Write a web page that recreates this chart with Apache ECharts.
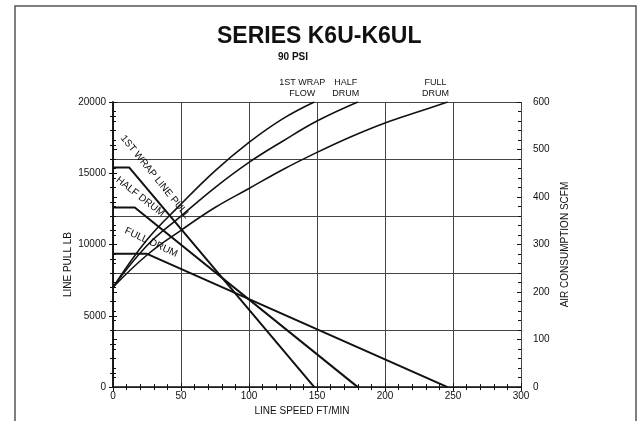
<!DOCTYPE html>
<html lang="en" style="height: 100%">
<head>
  <meta charset="utf-8">
</head>
<body style="height: 100%; margin: 0; background: #fff">
<div id="container" style="width: 638px; height: 421px"></div>

<script type="text/javascript" src="https://cdn.jsdelivr.net/npm/echarts@6/dist/echarts.min.js"></script>

<script type="text/javascript">
  // line pull (lb) vs line speed (ft/min)
  var pullWrap = [[0, 15400], [12, 15400], [148, 0]];
  var pullHalf = [[0, 12600], [16, 12600], [180, 0]];
  var pullFull = [[0, 9350], [25, 9350], [246, 0]];
  // air consumption (scfm) vs line speed
  var flowWrap = [[0, 210], [25, 310], [50, 385], [75, 455], [100, 515], [125, 565], [148, 600]];
  var flowHalf = [[0, 210], [25, 298], [50, 360], [75, 420], [100, 473], [125, 518], [150, 560], [180, 600]];
  var flowFull = [[0, 210], [25, 278], [50, 330], [75, 378], [100, 418], [125, 458], [150, 494], [175, 527], [200, 556], [225, 580], [246, 600]];

  var font = "'Liberation Sans', Arial, sans-serif";
  var ink = '#111';

  var dom = document.getElementById('container');
  var myChart = echarts.init(dom, null, { renderer: 'canvas' });

  function tickAxis(extra) {
    return Object.assign({
      axisLine: { show: false },
      axisLabel: { show: false },
      splitLine: { show: false },
      axisTick: { show: true, inside: true, length: 4, lineStyle: { color: ink } },
      minorTick: { show: true, splitNumber: 5, length: 3, lineStyle: { color: ink } }
    }, extra);
  }

  function pullLabel(text, coord, rot) {
    return {
      coord: coord,
      symbolSize: 0,
      label: {
        show: true, position: 'inside', formatter: text, rotate: rot,
        fontFamily: font, fontSize: 10, color: ink
      }
    };
  }

  function topLabel(text, coord) {
    return {
      coord: coord,
      symbolSize: 0,
      label: {
        show: true, position: 'top', distance: 3, offset: [-12, 0], formatter: text,
        fontFamily: font, fontSize: 9, lineHeight: 11, color: ink, align: 'center'
      }
    };
  }

  var option = {
    animation: false,
    backgroundColor: '#fff',
    title: [
      { text: 'SERIES K6U-K6UL', left: 212, top: 20,
        textStyle: { fontFamily: font, fontSize: 23, fontWeight: 'bold', color: '#111' } },
      { text: '90 PSI', left: 273, top: 47,
        textStyle: { fontFamily: font, fontSize: 10, fontWeight: 'bold', color: '#111' } }
    ],
    graphic: [{
      type: 'rect', silent: true,
      shape: { x: 15, y: 6, width: 621, height: 440 },
      style: { fill: null, stroke: '#555', lineWidth: 1.5 }
    }],
    grid: { left: 113, right: 117, top: 102, bottom: 31 },
    xAxis: [
      {
        type: 'value', min: 0, max: 300, interval: 50, position: 'bottom',
        name: 'LINE SPEED FT/MIN', nameLocation: 'middle', nameGap: 11,
        nameTextStyle: { fontFamily: font, fontSize: 10, color: ink, padding: [0, 30, 0, 0] },
        axisLine: { lineStyle: { color: ink, width: 1.5 } },
        axisTick: { length: 4, lineStyle: { color: ink } },
        minorTick: { show: true, splitNumber: 5, length: 3, lineStyle: { color: ink } },
        axisLabel: { fontFamily: font, fontSize: 10, color: ink, margin: 4 },
        splitLine: { show: true, lineStyle: { color: '#444', width: 1 } }
      },
      tickAxis({ type: 'value', min: 0, max: 300, interval: 50, position: 'bottom' })
    ],
    yAxis: [
      {
        type: 'value', min: 0, max: 20000, interval: 5000, position: 'left',
        name: 'LINE PULL LB', nameLocation: 'middle', nameGap: 40, nameMoveOverlap: false,
        nameTextStyle: { fontFamily: font, fontSize: 10, color: ink, padding: [0, 40, 0, 0] },
        axisLine: { show: true, lineStyle: { color: ink, width: 1.5 } },
        axisTick: { show: true, length: 4, lineStyle: { color: ink } },
        minorTick: { show: true, splitNumber: 5, length: 3, lineStyle: { color: ink } },
        axisLabel: { fontFamily: font, fontSize: 10, color: ink, margin: 7,
          formatter: function (v) { return String(v); } },
        splitLine: { show: false }
      },
      {
        type: 'value', min: 0, max: 600, interval: 100, position: 'right',
        name: 'AIR CONSUMPTION SCFM', nameLocation: 'middle', nameGap: 38,
        nameTextStyle: { fontFamily: font, fontSize: 10, color: ink },
        axisLine: { show: true, lineStyle: { color: ink, width: 1.5 } },
        axisTick: { show: true, length: 4, lineStyle: { color: ink } },
        minorTick: { show: true, splitNumber: 5, length: 3, lineStyle: { color: ink } },
        axisLabel: { fontFamily: font, fontSize: 10, color: ink, margin: 12 },
        splitLine: { show: false }
      },
      tickAxis({ type: 'value', min: 0, max: 20000, interval: 5000, position: 'left' }),
      tickAxis({ type: 'value', min: 0, max: 600, interval: 100, position: 'right' }),
      {
        type: 'value', min: 0, max: 20000, interval: 4000, position: 'left',
        axisLine: { show: false }, axisLabel: { show: false }, axisTick: { show: false },
        splitLine: { show: true, lineStyle: { color: '#444', width: 1 } }
      }
    ],
    series: [
      {
        name: '1st wrap line pull', type: 'line', data: pullWrap, yAxisIndex: 0,
        symbol: 'none', lineStyle: { color: ink, width: 2 },
        markPoint: { silent: true, data: [pullLabel('1ST WRAP LINE PULL', [31, 14750], -51)] }
      },
      {
        name: 'half drum line pull', type: 'line', data: pullHalf, yAxisIndex: 0,
        symbol: 'none', lineStyle: { color: ink, width: 2 },
        markPoint: { silent: true, data: [pullLabel('HALF DRUM', [20, 13350], -38)] }
      },
      {
        name: 'full drum line pull', type: 'line', data: pullFull, yAxisIndex: 0,
        symbol: 'none', lineStyle: { color: ink, width: 2 },
        markPoint: { silent: true, data: [pullLabel('FULL DRUM', [28, 10150], -25)] }
      },
      {
        name: '1st wrap flow', type: 'line', data: flowWrap, yAxisIndex: 1,
        symbol: 'none', smooth: 0.4, lineStyle: { color: ink, width: 1.6 },
        markPoint: { silent: true, data: [topLabel('1ST WRAP\nFLOW', [148, 600])] }
      },
      {
        name: 'half drum flow', type: 'line', data: flowHalf, yAxisIndex: 1,
        symbol: 'none', smooth: 0.4, lineStyle: { color: ink, width: 1.6 },
        markPoint: { silent: true, data: [topLabel('HALF\nDRUM', [180, 600])] }
      },
      {
        name: 'full drum flow', type: 'line', data: flowFull, yAxisIndex: 1,
        symbol: 'none', smooth: 0.4, lineStyle: { color: ink, width: 1.6 },
        markPoint: { silent: true, data: [topLabel('FULL\nDRUM', [246, 600])] }
      }
    ]
  };

  myChart.setOption(option);
  window.addEventListener('resize', myChart.resize);
</script>
</body>
</html>
